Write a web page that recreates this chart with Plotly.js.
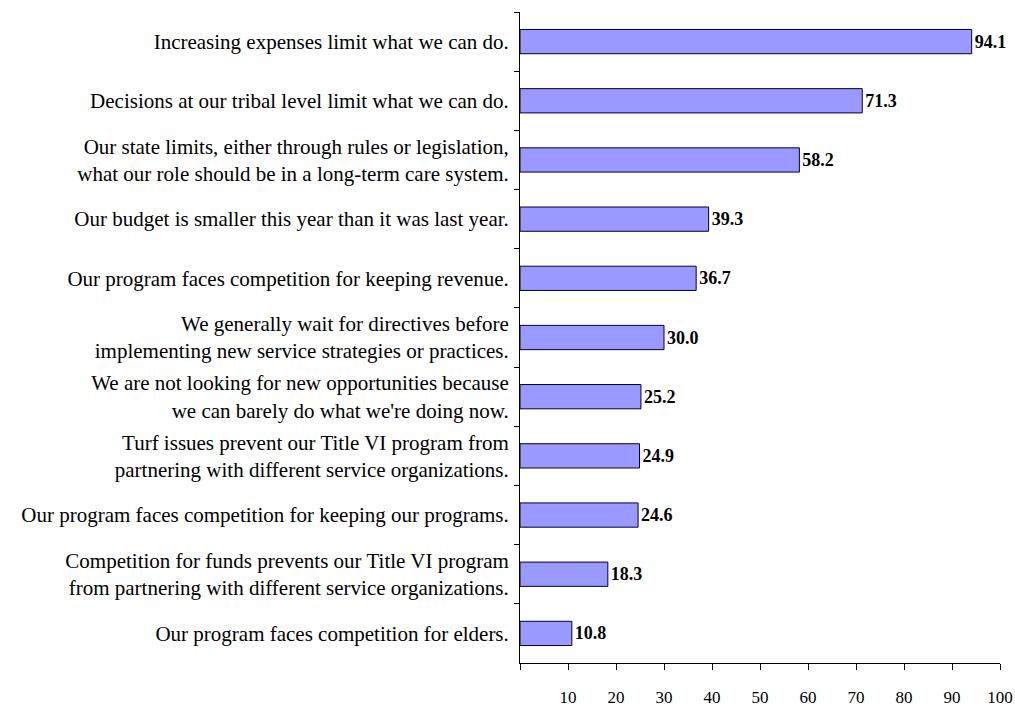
<!DOCTYPE html>
<html>
<head>
<meta charset="utf-8">
<script src="https://cdn.plot.ly/plotly-3.0.1.min.js"></script>
<style>body{margin:0;background:#fff;} #chart{width:1015px;height:707px;}</style>
</head>
<body>
<div id="chart"></div>
<script>
const categories = [
  "Increasing expenses limit what we can do.",
  "Decisions at our tribal level limit what we can do.",
  "Our state limits, either through rules or legislation,<br>what our role should be in a long-term care system.",
  "Our budget is smaller this year than it was last year.",
  "Our program faces competition for keeping revenue.",
  "We generally wait for directives before<br>implementing new service strategies or practices.",
  "We are not looking for new opportunities because<br>we can barely do what we're doing now.",
  "Turf issues prevent our Title VI program from<br>partnering with different service organizations.",
  "Our program faces competition for keeping our programs.",
  "Competition for funds prevents our Title VI program<br>from partnering with different service organizations.",
  "Our program faces competition for elders."
];
const values = [94.1, 71.3, 58.2, 39.3, 36.7, 30.0, 25.2, 24.9, 24.6, 18.3, 10.8];
const xTickVals = [0, 10, 20, 30, 40, 50, 60, 70, 80, 90, 100];
const xTickText = ["", "10", "20", "30", "40", "50", "60", "70", "80", "90", "100"];

const FONT = "'Liberation Serif', 'DejaVu Serif', serif";

Plotly.newPlot("chart", [{
  type: "bar",
  orientation: "h",
  y: categories,
  x: values,
  marker: {color: "#9999FF", line: {color: "#000033", width: 1}},
  texttemplate: "<b>%{x:.1f}</b>",
  textposition: "outside",
  cliponaxis: false,
  textfont: {family: FONT, size: 18, color: "#000"},
  hoverinfo: "none"
}], {
  width: 1015, height: 707,
  margin: {l: 520, r: 15, t: 12, b: 44},
  paper_bgcolor: "#fff", plot_bgcolor: "#fff",
  bargap: 0.59,
  showlegend: false,
  font: {family: FONT, size: 21, color: "#000"},
  xaxis: {
    range: [0, 100], fixedrange: true,
    showgrid: false, zeroline: false,
    showline: true, linecolor: "#000", linewidth: 1,
    ticks: "outside", ticklen: 6, tickcolor: "#000", tickwidth: 1,
    tickmode: "array", tickvals: xTickVals, ticktext: xTickText,
    ticklabelstandoff: 13,
    tickfont: {family: FONT, size: 17, color: "#000"}
  },
  yaxis: {
    autorange: "reversed", fixedrange: true,
    showgrid: false, zeroline: false,
    showline: true, linecolor: "#000", linewidth: 1,
    ticks: "outside", tickson: "boundaries", ticklen: 5, tickcolor: "#000", tickwidth: 1,
    ticklabelstandoff: 6,
    tickfont: {family: FONT, size: 21, color: "#000"}
  }
}, {displayModeBar: false, staticPlot: true});
</script>
</body>
</html>
